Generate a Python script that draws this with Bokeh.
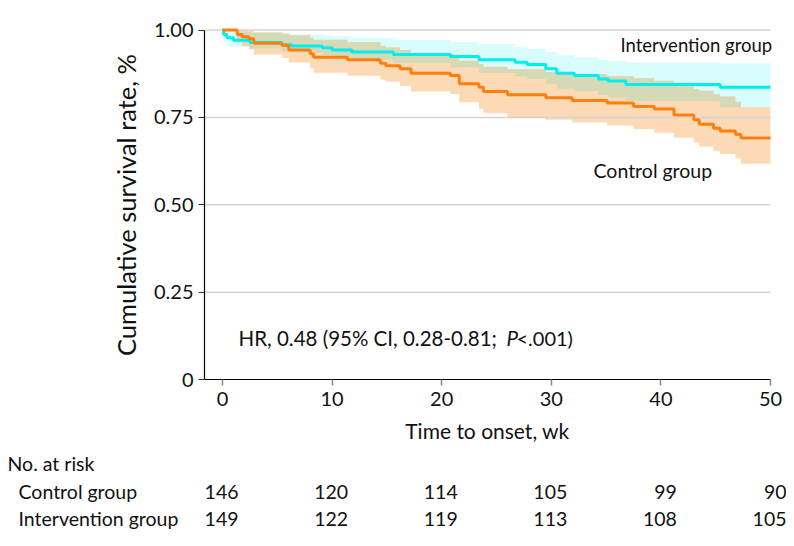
import numpy as np
from bokeh.plotting import figure
from bokeh.models import Range1d, FixedTicker, NumeralTickFormatter
from bokeh.embed import file_html
from bokeh.resources import INLINE
from bokeh.core.properties import value

# ---------------- data ----------------
int_time = [0, 0.1, 0.4, 1.0, 2.5, 5.4, 6.3, 9.1, 10.0, 11.8, 15.6, 20.8, 23.4, 26.7,
            27.8, 29.5, 30.5, 32.1, 34.3, 35.2, 36.8, 45.4, 50]
int_surv = [1.0, 0.987, 0.978, 0.971, 0.964, 0.958, 0.954, 0.949, 0.943, 0.937, 0.930,
            0.924, 0.915, 0.908, 0.901, 0.889, 0.876, 0.870, 0.860, 0.854, 0.844, 0.836, 0.836]
int_upper = [1.0, 1.0, 0.997, 0.995, 0.993, 0.99, 0.988, 0.985, 0.982, 0.978, 0.972,
             0.966, 0.960, 0.952, 0.946, 0.937, 0.928, 0.922, 0.915, 0.911, 0.907, 0.905, 0.905]
int_lower = [1.0, 0.965, 0.955, 0.952, 0.947, 0.938, 0.935, 0.928, 0.922, 0.915, 0.905,
             0.893, 0.877, 0.868, 0.860, 0.846, 0.832, 0.825, 0.814, 0.807, 0.796, 0.778, 0.778]

ctl_time = [0, 1.34, 1.8, 2.4, 2.86, 5.45, 6.05, 8.0, 8.3, 11.4, 14.4, 14.9, 16.2, 17.2,
            20.8, 21.6, 23.4, 23.8, 26.0, 29.5, 31.9, 35.1, 37.5, 39.4, 41.2, 43.0, 43.5,
            44.8, 45.4, 46.8, 47.3, 50]
ctl_surv = [1.0, 0.987, 0.981, 0.975, 0.962, 0.956, 0.943, 0.932, 0.922, 0.915, 0.905,
            0.898, 0.889, 0.876, 0.870, 0.846, 0.836, 0.824, 0.815, 0.806, 0.798, 0.791,
            0.781, 0.774, 0.757, 0.743, 0.730, 0.719, 0.711, 0.702, 0.691, 0.691]
ctl_upper = [1.0, 1.0, 1.0, 0.998, 0.993, 0.99, 0.985, 0.978, 0.972, 0.965, 0.955, 0.95,
             0.943, 0.934, 0.93, 0.912, 0.903, 0.895, 0.888, 0.880, 0.874, 0.868, 0.862,
             0.855, 0.842, 0.831, 0.826, 0.816, 0.810, 0.795, 0.779, 0.779]
ctl_lower = [1.0, 0.965, 0.955, 0.945, 0.93, 0.92, 0.907, 0.89, 0.878, 0.869, 0.858, 0.852,
             0.840, 0.824, 0.817, 0.793, 0.775, 0.762, 0.751, 0.743, 0.735, 0.727, 0.716,
             0.706, 0.692, 0.678, 0.666, 0.653, 0.645, 0.632, 0.617, 0.617]

risk_times = [0, 10, 20, 30, 40, 50]
risk_control = [146, 120, 114, 105, 99, 90]
risk_intervention = [149, 122, 119, 113, 108, 105]
risk_header = "No. at risk"
risk_row_labels = ["Control group", "Intervention group"]
x_ticks = [0, 10, 20, 30, 40, 50]
y_ticks = [0, 0.25, 0.5, 0.75, 1.0]

# ---------------- styling / geometry ----------------
FONT = "Lato"
TXT = "#111111"
CYAN = "#00EEEE"
ORANGE = "#FF7F0E"
CYAN_BAND = "#D9FDFD"
ORANGE_BAND = "#FDDAB6"
OVERLAP_BAND = "#D6D9B5"
GRID = "#D4D4D4"

W, H = 786, 538
X0_PX, X50_PX = 222.0, 770.0    # canvas x of t=0 and t=50
Y0_PX, Y1_PX = 379.0, 29.5      # canvas y of S=0 and S=1
PXW = (X50_PX - X0_PX) / 50.0
PXS = Y0_PX - Y1_PX


def dx(px):
    return (px - X0_PX) / PXW


def dy(py):
    return (Y0_PX - py) / PXS


XMIN, XMAX = dx(204), 50


def step_xy(t, v):
    t = np.asarray(t, dtype=float)
    v = np.asarray(v, dtype=float)
    return np.repeat(t, 2)[1:], np.repeat(v, 2)[:-1]


def step_eval(t, v, grid):
    idx = np.searchsorted(np.asarray(t), grid, side="right") - 1
    return np.asarray(v, dtype=float)[idx]


p = figure(width=W, height=H, x_range=Range1d(dx(0), dx(W)), y_range=Range1d(dy(H), dy(0)),
           output_backend="svg", toolbar_location=None, min_border=0)
p.outline_line_color = None
p.background_fill_color = "white"
p.border_fill_color = "white"
p.grid.visible = False

# confidence bands
bx, blo = step_xy(int_time, int_lower)
_, bup = step_xy(int_time, int_upper)
p.varea(x=bx, y1=blo, y2=bup, fill_color=CYAN_BAND, fill_alpha=1.0)
bx, blo = step_xy(ctl_time, ctl_lower)
_, bup = step_xy(ctl_time, ctl_upper)
p.varea(x=bx, y1=blo, y2=bup, fill_color=ORANGE_BAND, fill_alpha=1.0)

grid = np.union1d(int_time, ctl_time)
olo = np.maximum(step_eval(int_time, int_lower, grid), step_eval(ctl_time, ctl_lower, grid))
ohi = np.minimum(step_eval(int_time, int_upper, grid), step_eval(ctl_time, ctl_upper, grid))
ohi = np.maximum(ohi, olo)
ox, oy1 = step_xy(grid, olo)
_, oy2 = step_xy(grid, ohi)
p.varea(x=ox, y1=oy1, y2=oy2, fill_color=OVERLAP_BAND, fill_alpha=1.0)

# horizontal grid lines at the y ticks (except 0, where the x axis sits)
gy = [v for v in y_ticks if v > 0]
p.segment(x0=[XMIN] * len(gy), x1=[XMAX] * len(gy), y0=gy, y1=gy,
          line_color=GRID, line_width=1.5)

# survival lines
p.step(x=int_time, y=int_surv, mode="after", line_color=CYAN, line_width=3)
p.step(x=ctl_time, y=ctl_surv, mode="after", line_color=ORANGE, line_width=3)

# axes, fixed at S = 0 and t = XMIN
for ax in (p.xaxis, p.yaxis):
    ax.axis_line_color = "black"
    ax.axis_line_width = 1.2
    ax.major_tick_in = 0
    ax.major_tick_out = 6
    ax.minor_tick_line_color = None
    ax.major_label_text_font = FONT
    ax.major_label_text_font_size = "20px"
    ax.major_label_text_color = TXT
    ax.axis_label_text_font = FONT
    ax.axis_label_text_font_style = "normal"
    ax.axis_label_text_color = TXT

p.xaxis.fixed_location = 0
p.xaxis.bounds = (XMIN, XMAX)
p.xaxis.ticker = FixedTicker(ticks=x_ticks)
p.xaxis.major_tick_line_color = "#888888"
p.xaxis.major_tick_line_width = 1.5
p.xaxis.major_label_standoff = 6
p.xaxis.axis_label = "Time to onset, wk"
p.xaxis.axis_label_text_font_size = "21px"
p.xaxis.axis_label_standoff = 9

p.yaxis.fixed_location = XMIN
p.yaxis.bounds = (0, 1)
p.yaxis.ticker = FixedTicker(ticks=y_ticks)
p.yaxis.formatter = NumeralTickFormatter(format="0.00")
p.yaxis.major_label_overrides = {0: "0"}
p.yaxis.major_tick_line_color = "#333333"
p.yaxis.axis_label = "Cumulative survival rate, %"
p.yaxis.axis_label_text_font_size = "25.5px"
p.yaxis.axis_label_standoff = 10


def txt(xs, ys, texts, size, align="left", style="normal", x_offset=0):
    p.text(x=xs, y=ys, text=texts, text_font=value(FONT), text_font_size=value(size),
           text_font_style=style, text_color=TXT, text_baseline="middle",
           text_align=align, x_offset=x_offset)


# in-plot annotations
txt([dx(620)], [dy(44)], ["Intervention group"], "18.5px")
txt([dx(593)], [dy(170)], ["Control group"], "19.5px")
txt([dx(238)], [dy(337)], ["HR, 0.48 (95% CI, 0.28-0.81;"], "20.5px")
txt([dx(506)], [dy(337)], ["P"], "20.5px", style="italic")
txt([dx(516)], [dy(337)], ["<.001)"], "20px")

# risk table
TAB = "19.5px"
row_y = [dy(491), dy(518)]
txt([dx(7)], [dy(463)], [risk_header], TAB)
txt([dx(18)] * 2, row_y, risk_row_labels, TAB)
for counts, yy in zip([risk_control, risk_intervention], row_y):
    txt(risk_times, [yy] * len(risk_times), [str(v) for v in counts], TAB,
        align="right", x_offset=16)

open("out.html", "w").write(file_html(p, INLINE))
